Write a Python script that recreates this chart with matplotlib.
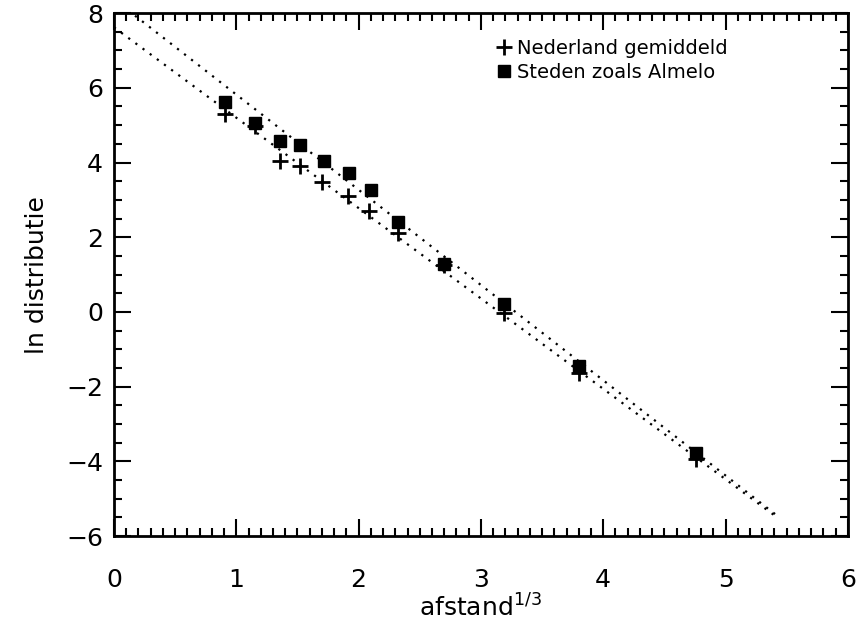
import numpy as np
import matplotlib.pyplot as plt
from matplotlib.ticker import MultipleLocator

# data
x_ned = [0.91, 1.15, 1.36, 1.52, 1.70, 1.91, 2.085, 2.32, 2.70, 3.19, 3.80, 4.76]
y_ned = [5.31, 4.98, 4.04, 3.90, 3.49, 3.11, 2.70, 2.11, 1.25, -0.03, -1.63, -3.94]

x_steden = [0.91, 1.15, 1.355, 1.52, 1.715, 1.92, 2.10, 2.325, 2.70, 3.19, 3.80, 4.76]
y_steden = [5.62, 5.07, 4.57, 4.46, 4.04, 3.73, 3.26, 2.42, 1.29, 0.21, -1.45, -3.79]

# fitted lines (intercept, slope), drawn up to x = 5.43
fit_ned = (7.62, -2.42)
fit_steden = (8.37, -2.55)
x_end = 5.43

fig = plt.figure(figsize=(8.59, 6.25), dpi=100)
ax = fig.add_axes([0.1327, 0.1424, 0.8543, 0.8366])

xl = np.array([0.0, x_end])
ax.plot(xl, fit_ned[0] + fit_ned[1] * xl, color="black", lw=1.6,
        linestyle=(0, (1, 3)))
ax.plot(xl, fit_steden[0] + fit_steden[1] * xl, color="black", lw=1.6,
        linestyle=(0, (1, 3)))

ax.plot(x_ned, y_ned, linestyle="none", marker="+", color="black",
        markersize=11, markeredgewidth=2, label="Nederland gemiddeld")
ax.plot(x_steden, y_steden, linestyle="none", marker="s", color="black",
        markersize=9, label="Steden zoals Almelo")

ax.set_xlim(0, 6)
ax.set_ylim(-6, 8)
ax.xaxis.set_major_locator(MultipleLocator(1))
ax.xaxis.set_minor_locator(MultipleLocator(0.1))
ax.yaxis.set_major_locator(MultipleLocator(2))
ax.yaxis.set_minor_locator(MultipleLocator(0.5))

ax.tick_params(which="both", direction="in", top=True, right=True,
               width=1.5, labelsize=18)
ax.tick_params(which="major", length=12)
ax.tick_params(which="minor", length=6)
ax.tick_params(axis="x", pad=23)
ax.tick_params(axis="y", pad=8)
for s in ax.spines.values():
    s.set_linewidth(2)

ax.set_xlabel("afstand$^{1/3}$", fontsize=18, labelpad=2)
ax.set_ylabel("ln distributie", fontsize=18, labelpad=12)

ax.legend(loc="upper left", bbox_to_anchor=(0.51, 0.965), frameon=False,
          fontsize=14, handlelength=0.8, handletextpad=0.3,
          labelspacing=0.25, borderaxespad=0)

fig.savefig("out.png", dpi=100)
